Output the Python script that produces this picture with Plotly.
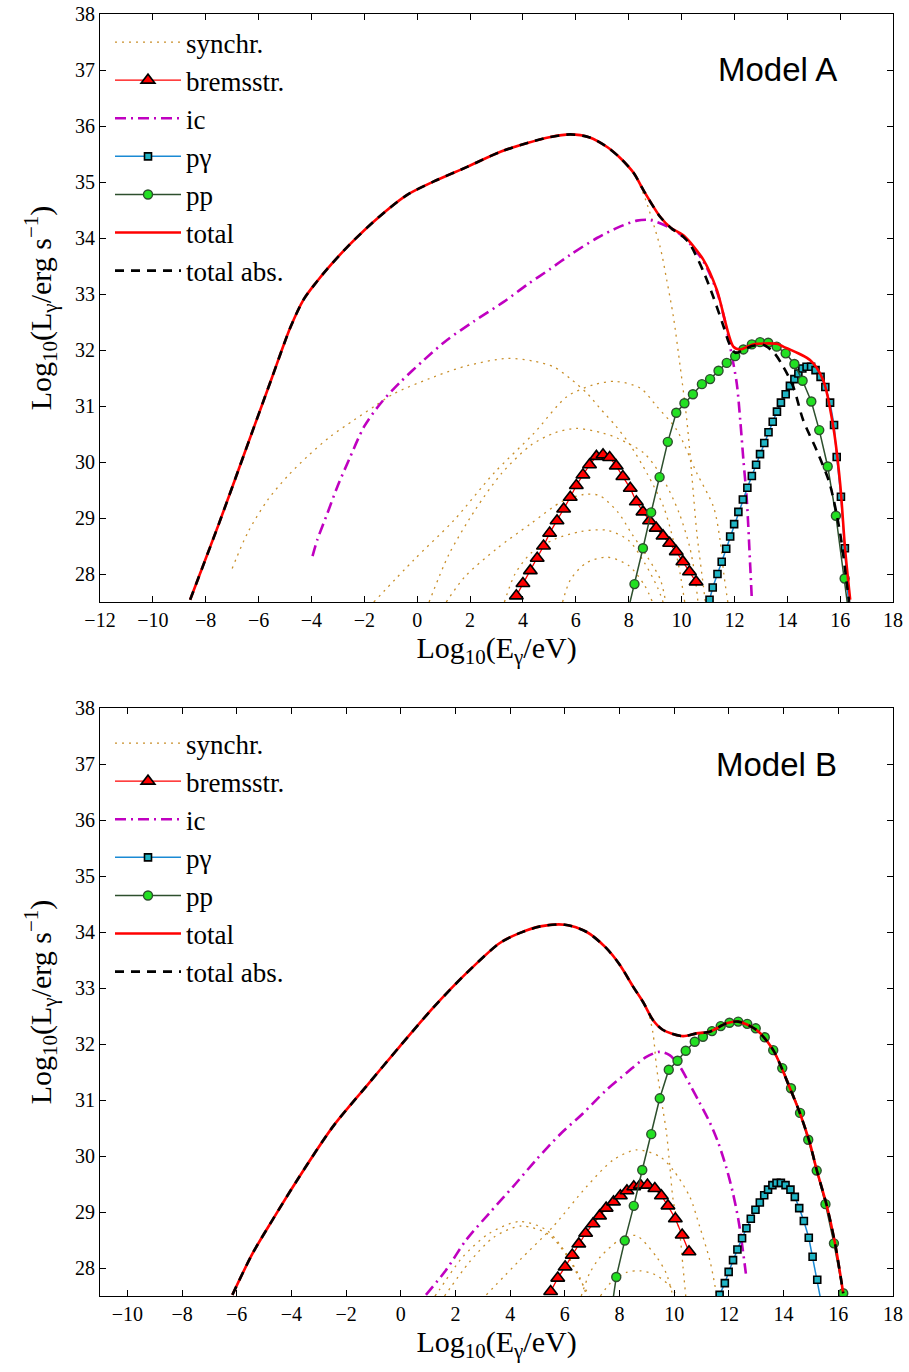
import plotly.graph_objects as go

# ---------------- Model A (top) ----------------
total_A_x = [-8.59, -7.5, -6.5, -5.5, -4.8, -4.3, -3.8, -3.4, -2.52, -1.51, -0.38, 0.63, 1.89, 3.15, 4.2,
             5.0, 5.79, 6.5, 7.2, 7.7, 8.19, 8.6, 9.19, 9.6, 10.07, 10.83, 11.34, 11.96, 12.22, 12.72, 13.6, 13.85,
             14.86, 15.36, 15.74, 16.0, 16.19, 16.38]
total_A_y = [27.54, 28.9, 30.2, 31.5, 32.4, 32.9, 33.22, 33.45, 33.9, 34.35, 34.77, 35.01, 35.27, 35.54, 35.7,
             35.8, 35.85, 35.8, 35.62, 35.42, 35.16, 34.82, 34.38, 34.18, 34.05, 33.61, 33.07, 32.06, 32.01, 32.1, 32.11,
             32.06, 31.82, 31.46, 30.63, 29.62, 28.43, 27.54]

totabs_A_x = [-8.59, -7.5, -6.5, -5.5, -4.8, -4.3, -3.8, -3.4, -2.52, -1.51, -0.38, 0.63, 1.89, 3.15, 4.2,
              5.0, 5.79, 6.5, 7.2, 7.7, 8.19, 8.6, 9.19, 9.6, 10.07, 10.33, 10.83, 11.2, 11.59, 11.8, 12.03, 12.34, 12.66,
              13.1, 13.5, 13.85, 14.23, 14.6, 15.11, 15.6, 16.0, 16.25, 16.34]
totabs_A_y = [27.54, 28.9, 30.2, 31.5, 32.4, 32.9, 33.22, 33.45, 33.9, 34.35, 34.77, 35.01, 35.27, 35.54, 35.7,
              35.8, 35.85, 35.8, 35.62, 35.42, 35.16, 34.82, 34.38, 34.18, 34.02, 33.88, 33.4, 32.95, 32.42, 32.12, 31.95,
              32.0, 32.07, 32.09, 31.95, 31.7, 31.34, 30.75, 30.21, 29.62, 28.73, 27.84, 27.5]

ic_A_x = [-3.96, -3.78, -3.4, -3.02, -2.58, -2.01, -1.38, -0.63, 0.25, 1.13, 2.14, 3.27, 4.2, 5.04, 5.79, 6.8, 7.56, 8.31,
          8.82, 9.45, 10.07, 10.83, 11.34, 11.7, 11.84, 12.09, 12.22, 12.34, 12.47, 12.6, 12.66]
ic_A_y = [28.32, 28.61, 29.08, 29.56, 30.04, 30.63, 31.05, 31.43, 31.82, 32.18, 32.51, 32.86, 33.18, 33.45, 33.7, 34.0,
          34.18, 34.31, 34.32, 34.21, 34.02, 33.58, 33.04, 32.4, 32.06, 31.4, 30.75, 30.04, 29.32, 28.13, 27.54]

brems_A_x = [3.75, 4.0, 4.28, 4.54, 4.78, 5.01, 5.29, 5.54, 5.79, 6.02, 6.27, 6.52, 6.78, 7.03, 7.28, 7.53, 7.78, 8.06,
             8.29, 8.54, 8.79, 9.04, 9.3, 9.55, 9.8, 10.05, 10.3, 10.55]
brems_A_y = [27.61, 27.83, 28.06, 28.28, 28.5, 28.73, 28.95, 29.16, 29.37, 29.58, 29.77, 29.95, 30.1, 30.13, 30.08, 29.93,
             29.74, 29.53, 29.29, 29.11, 28.95, 28.82, 28.68, 28.55, 28.4, 28.22, 28.04, 27.86]

pp_A_x = [7.95, 8.22, 8.54, 8.85, 9.17, 9.48, 9.8, 10.11, 10.43, 10.77, 11.08, 11.4, 11.71, 12.03, 12.34, 12.66, 12.97,
          13.28, 13.6, 13.94, 14.27, 14.58, 14.91, 15.21, 15.53, 15.84, 16.17, 16.35]
pp_A_y = [27.3, 27.82, 28.46, 29.1, 29.73, 30.36, 30.88, 31.05, 31.21, 31.39, 31.48, 31.63, 31.77, 31.89, 32.01, 32.1,
          32.14, 32.13, 32.06, 31.94, 31.75, 31.45, 31.08, 30.57, 29.92, 29.04, 27.92, 27.2]

pg_A_x = [11.06, 11.18, 11.36, 11.52, 11.69, 11.84, 11.99, 12.15, 12.32, 12.49, 12.66, 12.82, 12.97, 13.13, 13.29, 13.45,
          13.61, 13.76, 13.94, 14.1, 14.27, 14.42, 14.57, 14.73, 14.9, 15.07, 15.26, 15.44, 15.62, 15.77, 15.87, 16.03,
          16.18, 16.36]
pg_A_y = [27.54, 27.76, 28.0, 28.22, 28.45, 28.67, 28.89, 29.11, 29.33, 29.54, 29.75, 29.95, 30.14, 30.34, 30.53, 30.72,
          30.9, 31.06, 31.21, 31.36, 31.48, 31.58, 31.67, 31.7, 31.7, 31.64, 31.52, 31.34, 31.06, 30.66, 30.09, 29.38,
          28.46, 27.2]

# synchrotron components, Model A
syn_A = [
    ([-8.59, -7.5, -6.5, -5.5, -4.8, -4.3, -3.8, -3.4, -2.52, -1.51, -0.38, 0.63, 1.89, 3.15, 4.2, 5.0,
      5.79, 6.5, 7.2, 7.7, 8.19, 8.55, 9.19, 9.44, 9.69, 9.95, 10.2, 10.4, 10.58, 10.83, 10.9],
     [27.54, 28.9, 30.2, 31.5, 32.4, 32.9, 33.22, 33.45, 33.9, 34.35, 34.77, 35.01, 35.27, 35.54, 35.7,
      35.8, 35.85, 35.8, 35.62, 35.42, 35.16, 34.8, 33.84, 33.25, 32.6, 31.7, 30.75, 29.7, 28.73, 27.77, 27.5]),
    ([-7.0, -6.4, -5.66, -4.9, -4.15, -3.3, -2.39, -1.6, -0.88, 0.63, 1.89, 3.4, 4.41, 5.16, 5.79, 6.42, 6.93, 7.5,
      8.06, 8.69, 9.32, 9.69, 9.95, 10.12],
     [28.1, 28.75, 29.32, 29.75, 30.1, 30.45, 30.75, 31.0, 31.22, 31.52, 31.72, 31.85, 31.8, 31.7, 31.49, 31.23, 30.95,
      30.65, 30.3, 29.8, 29.2, 28.6, 28.0, 27.5]),
    ([-1.64, -0.13, 1.39, 2.9, 4.41, 5.67, 6.68, 7.5, 8.44, 9.07, 9.82, 10.58, 11.21, 11.46, 11.6, 11.75],
     [27.5, 28.25, 28.96, 29.8, 30.51, 31.17, 31.38, 31.44, 31.32, 30.99, 30.57, 29.8, 29.2, 28.6, 28.0, 27.5]),
    ([0.45, 1.2, 2.2, 3.2, 4.3, 5.2, 6.0, 7.0, 7.6, 8.6, 9.3, 9.9, 10.3, 10.5, 10.62],
     [27.5, 28.35, 29.15, 29.8, 30.3, 30.52, 30.6, 30.52, 30.42, 30.15, 29.7, 29.1, 28.5, 28.0, 27.5]),
    ([1.1, 1.8, 3.0, 4.3, 5.5, 6.3, 6.9, 7.6, 8.1, 8.7, 9.2, 9.4],
     [27.5, 27.95, 28.45, 28.9, 29.3, 29.42, 29.4, 29.1, 28.73, 28.31, 27.9, 27.5]),
    ([3.3, 3.7, 4.3, 5.2, 6.2, 7.2, 8.0, 8.6, 9.1, 9.3],
     [27.5, 28.0, 28.37, 28.62, 28.76, 28.78, 28.6, 28.2, 27.75, 27.5]),
    ([5.5, 5.8, 6.4, 7.2, 8.0, 8.6, 8.9],
     [27.5, 27.9, 28.2, 28.3, 28.15, 27.8, 27.5]),
]

# ---------------- Model B (bottom) ----------------
total_B_x = [-6.16, -5.42, -4.69, -3.71, -2.49, -1.27, -0.05, 1.17, 2.39, 3.61, 4.34, 5.1, 6.0, 6.8, 7.5, 8.0, 8.5, 8.86,
             9.22, 9.59, 10.32, 10.81, 11.3, 11.91, 12.34, 13.01, 13.62, 14.23, 14.6, 14.96, 15.21, 15.57, 15.88, 16.18]
total_B_y = [27.52, 28.26, 28.86, 29.63, 30.52, 31.24, 31.95, 32.64, 33.26, 33.8, 33.98, 34.1, 34.13, 34.0, 33.72, 33.42,
             33.02, 32.75, 32.43, 32.25, 32.14, 32.19, 32.22, 32.37, 32.4, 32.25, 31.89, 31.21, 30.76, 30.23, 29.75,
             29.13, 28.44, 27.55]
totabs_B_x = list(total_B_x)
totabs_B_y = list(total_B_y)

ic_B_x = [0.92, 1.65, 2.39, 3.24, 4.1, 4.95, 5.81, 6.66, 7.52, 8.25, 8.98, 9.47, 9.83, 10.2, 10.6, 10.93, 11.3, 11.6,
          11.9, 12.14, 12.35, 12.5, 12.62]
ic_B_y = [27.52, 27.96, 28.5, 28.98, 29.45, 29.93, 30.38, 30.76, 31.18, 31.48, 31.77, 31.86, 31.8, 31.6, 31.25, 30.95,
          30.6, 30.25, 29.8, 29.35, 28.85, 28.35, 27.9]

brems_B_x = [5.48, 5.74, 6.01, 6.27, 6.51, 6.76, 7.03, 7.27, 7.51, 7.78, 8.03, 8.27, 8.52, 8.76, 9.02, 9.29, 9.53, 9.77,
             10.04, 10.29, 10.54]
brems_B_y = [27.58, 27.82, 28.02, 28.23, 28.43, 28.62, 28.79, 28.93, 29.07, 29.18, 29.29, 29.38, 29.45, 29.48, 29.48,
             29.42, 29.29, 29.11, 28.88, 28.59, 28.29]

pp_B_x = [7.72, 7.88, 8.19, 8.52, 8.83, 9.16, 9.47, 9.8, 10.12, 10.42, 10.75, 11.05, 11.38, 11.7, 12.02, 12.34, 12.67,
          12.98, 13.31, 13.62, 13.95, 14.27, 14.6, 14.9, 15.21, 15.53, 15.84, 16.18]
pp_B_y = [27.3, 27.84, 28.49, 29.11, 29.75, 30.39, 31.03, 31.54, 31.7, 31.88, 32.04, 32.13, 32.23, 32.32, 32.38, 32.4,
          32.36, 32.28, 32.12, 31.89, 31.57, 31.21, 30.77, 30.29, 29.74, 29.14, 28.44, 27.55]

pg_B_x = [11.66, 11.85, 11.99, 12.15, 12.31, 12.48, 12.64, 12.8, 12.97, 13.13, 13.29, 13.43, 13.59, 13.74, 13.9, 14.07,
          14.25, 14.41, 14.57, 14.74, 14.92, 15.06, 15.23, 15.45]
pg_B_y = [27.52, 27.73, 27.93, 28.14, 28.33, 28.53, 28.71, 28.88, 29.04, 29.17, 29.3, 29.4, 29.48, 29.52, 29.52, 29.48,
          29.4, 29.27, 29.07, 28.84, 28.54, 28.2, 27.79, 27.2]

syn_B = [
    ([-6.16, -5.42, -4.69, -3.71, -2.49, -1.27, -0.05, 1.17, 2.39, 3.61, 4.34, 5.1, 6.0, 6.8, 7.5, 8.0, 8.5, 8.98, 9.22,
      9.35, 9.53, 9.72, 9.84, 9.96, 10.2, 10.32, 10.42],
     [27.52, 28.26, 28.86, 29.63, 30.52, 31.24, 31.95, 32.64, 33.26, 33.8, 33.98, 34.1, 34.13, 34.0, 33.72, 33.42,
      33.02, 32.67, 32.2, 31.6, 31.0, 30.4, 29.81, 29.21, 28.62, 28.02, 27.5]),
    ([3.13, 4.35, 5.57, 6.79, 7.77, 8.62, 9.47, 9.96, 10.57, 10.93, 11.3, 11.54],
     [27.52, 28.14, 28.74, 29.45, 29.93, 30.11, 29.99, 29.75, 29.27, 28.74, 28.14, 27.55]),
    ([1.25, 1.41, 2.27, 3.24, 4.34, 5.32, 6.05, 6.54, 6.79],
     [27.5, 27.61, 28.2, 28.62, 28.83, 28.68, 28.26, 27.84, 27.52]),
    ([1.6, 2.5, 3.4, 4.4, 5.4, 6.1, 6.6, 6.9],
     [27.5, 28.1, 28.55, 28.75, 28.6, 28.2, 27.75, 27.5]),
    ([6.6, 6.9, 7.3, 8.0, 8.6, 9.35, 9.71, 9.95],
     [27.5, 27.9, 28.2, 28.5, 28.58, 28.2, 27.9, 27.5]),
    ([7.3, 7.7, 8.25, 8.74, 9.3, 9.8, 10.1],
     [27.5, 27.75, 27.92, 27.95, 27.88, 27.7, 27.5]),
]

yticks = list(range(28, 39))
xticks_A = list(range(-12, 19, 2))
xticks_B = list(range(-10, 19, 2))

# ---------------- styles ----------------
SYN_C = "#c98f2a"
IC_C = "#c000c0"
SERIF = "Liberation Serif"

fig = go.Figure()


def add_panel(xa, ya, leg, syn, brx, bry, icx, icy, pgx, pgy, ppx, ppy, tx, ty, tax, tay):
    for i, (sx, sy) in enumerate(syn):
        fig.add_trace(go.Scatter(x=sx, y=sy, mode="lines", name="synchr.", legend=leg,
                                 legendgroup=leg + "syn", showlegend=(i == 0), xaxis=xa, yaxis=ya,
                                 line=dict(color=SYN_C, width=1.3, dash="2px,5px", shape="spline", smoothing=0.8)))
    fig.add_trace(go.Scatter(x=brx, y=bry, mode="lines+markers", name="bremsstr.", legend=leg,
                             xaxis=xa, yaxis=ya, line=dict(color="#ff0000", width=1.3),
                             marker=dict(symbol="triangle-up", size=12, color="#ff0000",
                                         line=dict(color="black", width=1.6))))
    fig.add_trace(go.Scatter(x=icx, y=icy, mode="lines", name="ic", legend=leg, xaxis=xa, yaxis=ya,
                             line=dict(color=IC_C, width=2.6, dash="11px,5px,2px,5px",
                                       shape="spline", smoothing=0.8)))
    fig.add_trace(go.Scatter(x=pgx, y=pgy, mode="lines+markers", name="pγ", legend=leg, xaxis=xa, yaxis=ya,
                             line=dict(color="#1a8ad4", width=1.5),
                             marker=dict(symbol="square", size=7, color="#1fb4c4",
                                         line=dict(color="black", width=1.6))))
    fig.add_trace(go.Scatter(x=ppx, y=ppy, mode="lines+markers", name="pp", legend=leg, xaxis=xa, yaxis=ya,
                             line=dict(color="#2d4f2d", width=1.5),
                             marker=dict(symbol="circle", size=9, color="#22e022",
                                         line=dict(color="#2d4f2d", width=1.4))))
    fig.add_trace(go.Scatter(x=tx, y=ty, mode="lines", name="total", legend=leg, xaxis=xa, yaxis=ya,
                             line=dict(color="#ff0000", width=2.6, shape="spline", smoothing=0.8)))
    fig.add_trace(go.Scatter(x=tax, y=tay, mode="lines", name="total abs.", legend=leg, xaxis=xa, yaxis=ya,
                             line=dict(color="black", width=2.6, dash="9px,7px", shape="spline", smoothing=0.8)))


add_panel("x", "y", "legend", syn_A, brems_A_x, brems_A_y, ic_A_x, ic_A_y, pg_A_x, pg_A_y, pp_A_x, pp_A_y,
          total_A_x, total_A_y, totabs_A_x, totabs_A_y)
add_panel("x2", "y2", "legend2", syn_B, brems_B_x, brems_B_y, ic_B_x, ic_B_y, pg_B_x, pg_B_y, pp_B_x, pp_B_y,
          total_B_x, total_B_y, totabs_B_x, totabs_B_y)

# the page body margin is removed below, so figure coordinates = screen coordinates
W, H = 909, 1372
xdom = [100 / W, 893 / W]
ydom_A = [(H - 602) / H, (H - 14) / H]
ydom_B = [(H - 1296) / H, (H - 708) / H]

axis_common = dict(showgrid=False, zeroline=False, ticks="inside", ticklen=6, tickwidth=1, tickcolor="black",
                   showline=True, linecolor="black", linewidth=1, mirror="ticks",
                   tickfont=dict(family=SERIF, size=20, color="black"), automargin=False)

xtitle = "Log<sub>10</sub>(E<sub>γ</sub>/eV)"
ytitle = "Log<sub>10</sub>(L<sub>γ</sub>/erg s<sup>−1</sup>)"
tfont = dict(family=SERIF, size=30, color="black")

legend_common = dict(font=dict(family=SERIF, size=27, color="black"), bgcolor="rgba(0,0,0,0)",
                     borderwidth=0, xanchor="left", yanchor="top", itemwidth=66,
                     tracegroupgap=0, traceorder="normal")

fig.update_layout(
    width=W, height=H, paper_bgcolor="white", plot_bgcolor="white",
    margin=dict(l=0, r=0, t=0, b=0),
    xaxis=dict(domain=xdom, range=[-12, 18], tickvals=xticks_A, anchor="y",
               title=dict(text=xtitle, font=tfont, standoff=6), **axis_common),
    yaxis=dict(domain=ydom_A, range=[27.5, 38], tickvals=yticks, anchor="x",
               title=dict(text=ytitle, font=tfont, standoff=14), **axis_common),
    xaxis2=dict(domain=xdom, range=[-11, 18], tickvals=xticks_B, anchor="y2",
                title=dict(text=xtitle, font=tfont, standoff=6), **axis_common),
    yaxis2=dict(domain=ydom_B, range=[27.5, 38], tickvals=yticks, anchor="x2",
                title=dict(text=ytitle, font=tfont, standoff=14), **axis_common),
    legend=dict(x=110 / W, y=(H - 18) / H, **legend_common),
    legend2=dict(x=110 / W, y=(H - 719) / H, **legend_common),
    annotations=[
        dict(text="Model A", x=777 / W, y=(H - 70) / H, xref="paper", yref="paper", showarrow=False,
             xanchor="center", yanchor="middle", font=dict(family="Liberation Sans", size=33, color="black")),
        dict(text="Model B", x=776 / W, y=(H - 765) / H, xref="paper", yref="paper", showarrow=False,
             xanchor="center", yanchor="middle", font=dict(family="Liberation Sans", size=33, color="black")),
    ],
    showlegend=True,
)

fig.write_html("out.html", config={"displayModeBar": False},
               post_script="document.body.style.margin='0px';document.body.style.overflow='hidden';")
